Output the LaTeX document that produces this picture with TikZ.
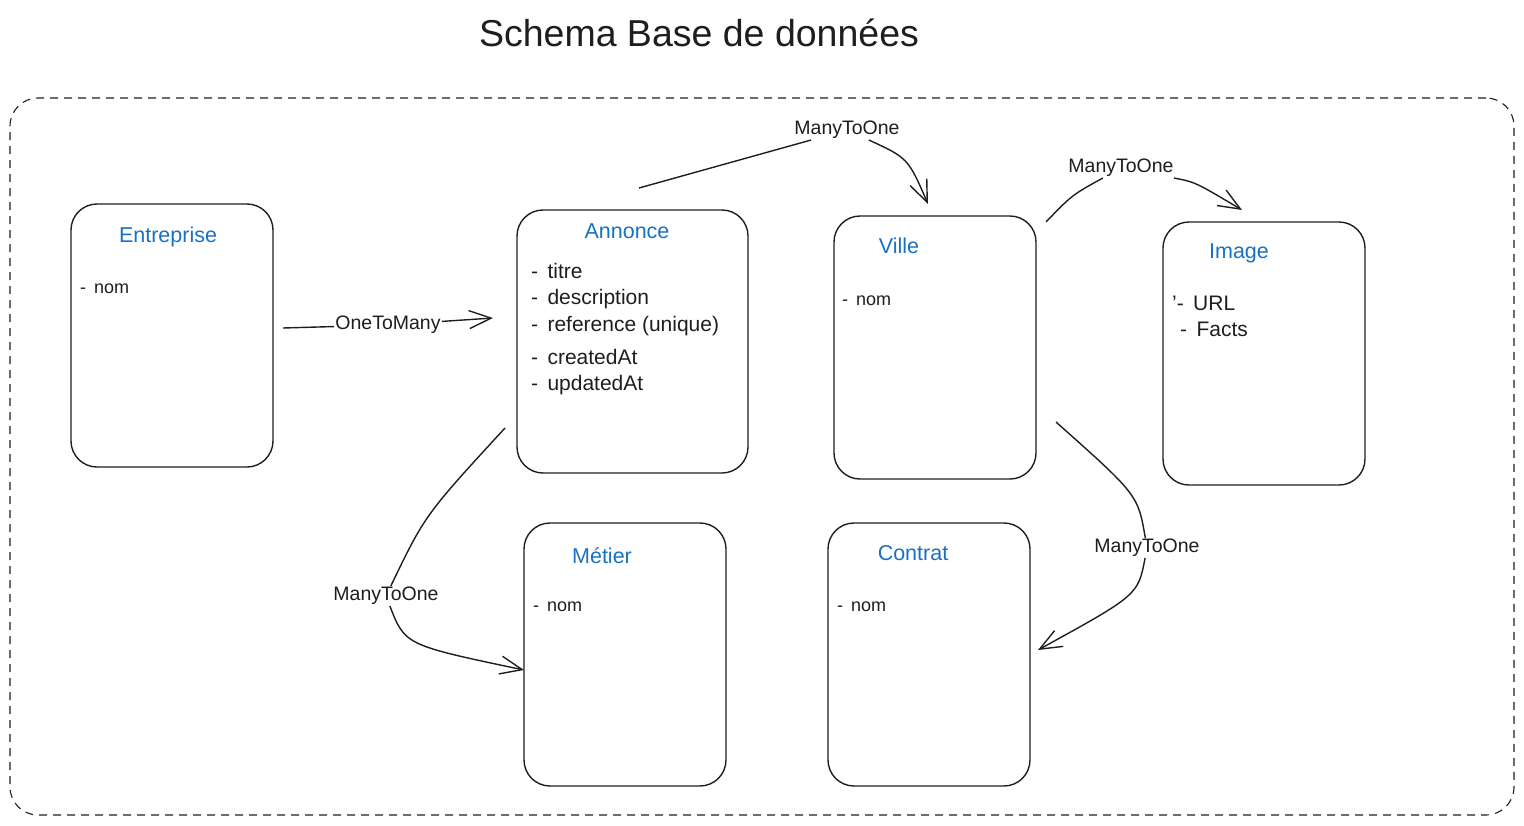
\documentclass[tikz,border=0pt]{standalone}
\usepackage{fontspec}
\setmainfont{Liberation Sans}
\usetikzlibrary{arrows.meta}
\definecolor{ink}{HTML}{1E1E1E}
\definecolor{titleblue}{HTML}{1971C2}
\begin{document}
\begin{tikzpicture}[x=1pt,y=-1pt,
  entity/.style={draw=ink, line width=1.4pt, rounded corners=26pt, inner sep=0pt, outer sep=0pt},
  frame/.style={draw=ink, line width=1.1pt, dash pattern=on 8pt off 6pt, rounded corners=28pt, inner sep=0pt},
  etitle/.style={anchor=base, text=titleblue, font=\fontsize{21.5}{25}\selectfont, inner sep=0pt},
  field/.style={anchor=base west, text=ink, font=\fontsize{21}{25}\selectfont, inner sep=0pt},
  smallfield/.style={anchor=base west, text=ink, font=\fontsize{18}{22}\selectfont, inner sep=0pt},
  rel/.style={fill=white, text=ink, font=\fontsize{19.5}{23}\selectfont, inner sep=1pt},
  conn/.style={draw=ink, line width=1.4pt, -{Straight Barb[length=22pt,width=18pt,line width=1.4pt]}}
]
\useasboundingbox (0,0) rectangle (1524,825);

% title
\node[anchor=base, text=ink, font=\fontsize{37.5}{44}\selectfont, inner sep=0pt] (title) at (699,46) {Schema Base de données};

% outer dashed frame
\node[frame, minimum width=1504pt, minimum height=717pt] (frame) at (762,456.5) {};

% entities
\node[entity, minimum width=202pt, minimum height=263pt] (ent) at (172,335.5) {};
\node[entity, minimum width=231pt, minimum height=263pt] (ann) at (632.5,341.5) {};
\node[entity, minimum width=202pt, minimum height=263pt] (vil) at (935,347.5) {};
\node[entity, minimum width=202pt, minimum height=263pt] (img) at (1264,353.5) {};
\node[entity, minimum width=202pt, minimum height=263pt] (met) at (625,654.5) {};
\node[entity, minimum width=202pt, minimum height=263pt] (con) at (929,654.5) {};

% entity titles
\node[etitle] (entT) at (168,242) {Entreprise};
\node[etitle] (annT) at (627,238) {Annonce};
\node[etitle] (vilT) at (899,253) {Ville};
\node[etitle] (imgT) at (1239,258) {Image};
\node[etitle] (metT) at (602,563) {Métier};
\node[etitle] (conT) at (913,560) {Contrat};

% fields
\node[smallfield] (entF) at (80,293) {-\, nom};
\node[field] (annF1) at (531,278) {-\, titre};
\node[field] (annF2) at (531,304) {-\, description};
\node[field] (annF3) at (531,331) {-\, reference (unique)};
\node[field] (annF4) at (531,364) {-\, createdAt};
\node[field] (annF5) at (531,390) {-\, updatedAt};
\node[smallfield] (vilF) at (842,305) {-\, nom};
\node[field] (imgF1) at (1172,310) {'-\, URL};
\node[field] (imgF2) at (1180,336) {-\, Facts};
\node[smallfield] (metF) at (533,611) {-\, nom};
\node[smallfield] (conF) at (837,611) {-\, nom};

% connector end points
\coordinate (c1s) at (283,328);
\coordinate (c1e) at (493,318);
\coordinate (c2s) at (639,188);
\coordinate (c2e) at (928,204);
\coordinate (c3s) at (1046,222);
\coordinate (c3e) at (1242,210);
\coordinate (c4s) at (505,428);
\coordinate (c4e) at (524,670);
\coordinate (c5s) at (1056,422);
\coordinate (c5e) at (1038,650);

% relation labels
\node[rel] (l1) at (388,325) {OneToMany};
\node[rel] (l2) at (847,130) {ManyToOne};
\node[rel] (l3) at (1121,168) {ManyToOne};
\node[rel] (l4) at (386,596) {ManyToOne};
\node[rel] (l5) at (1147,548) {ManyToOne};

% connectors
\draw[conn] (c1s) -- (l1) -- (c1e);
\draw[conn] (c2s) -- (l2) .. controls (908,158) .. (c2e);
\draw[conn] (c3s) .. controls (1072,195) .. (l3) .. controls (1195,182) .. (c3e);
\draw[conn] (c4s) .. controls (425,515) .. (l4) .. controls (405,645) .. (c4e);
\draw[conn] (c5s) .. controls (1138,495) .. (l5) .. controls (1138,595) .. (c5e);
\end{tikzpicture}
\end{document}
